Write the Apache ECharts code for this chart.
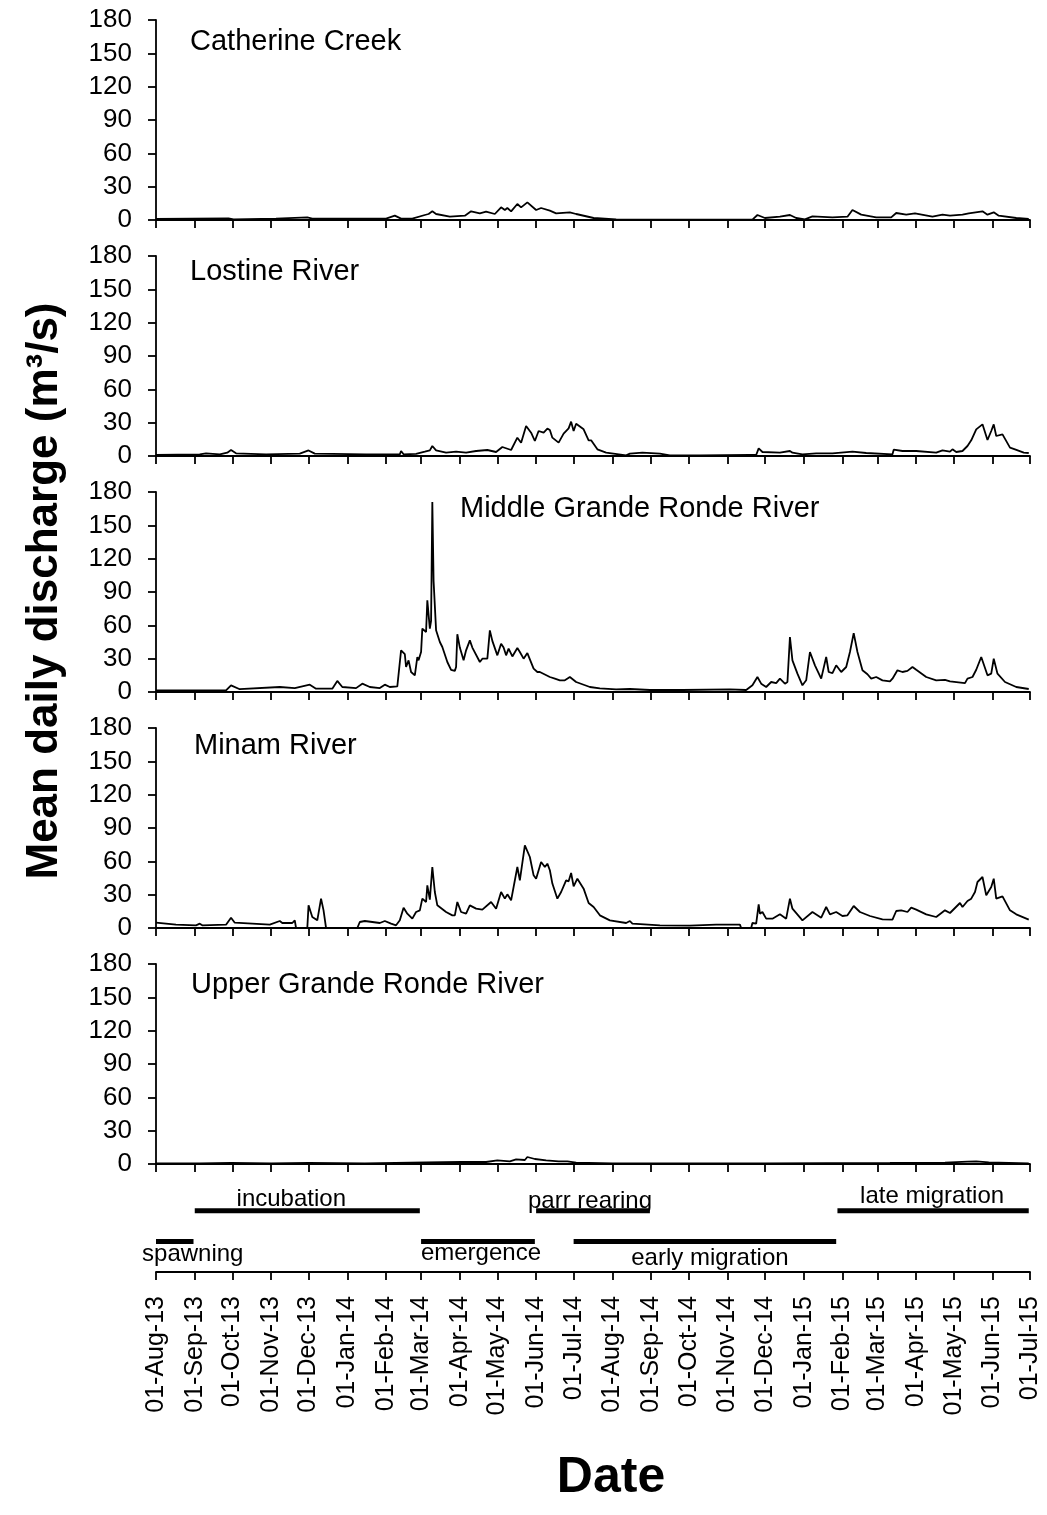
<!DOCTYPE html>
<html>
<head>
<meta charset="utf-8">
<script src="https://cdn.jsdelivr.net/npm/echarts@6/dist/echarts.min.js"></script>
<style>
html,body{margin:0;padding:0;background:#fff;}
#chart{width:1047px;height:1515px;}
</style>
</head>
<body>
<div id="chart"></div>
<script>
// ---------------- DATA ----------------
const panelNames = ['Catherine Creek', 'Lostine River', 'Middle Grande Ronde River', 'Minam River', 'Upper Grande Ronde River'];

const monthTicks = ['2013-08-01','2013-09-01','2013-10-01','2013-11-01','2013-12-01','2014-01-01','2014-02-01','2014-03-01','2014-04-01','2014-05-01','2014-06-01','2014-07-01','2014-08-01','2014-09-01','2014-10-01','2014-11-01','2014-12-01','2015-01-01','2015-02-01','2015-03-01','2015-04-01','2015-05-01','2015-06-01','2015-07-01'];

const yTicks = [0, 30, 60, 90, 120, 150, 180];

const catherineCreek = [['2013-08-01',0.9],['2013-09-28',1.5],['2013-10-02',0.6],['2013-11-05',1.2],['2013-11-30',2.4],['2013-12-04',1.2],['2014-02-01',1.2],['2014-02-08',3.9],['2014-02-13',1.2],['2014-02-22',1.2],['2014-03-04',4.5],['2014-03-07',5.4],['2014-03-10',7.8],['2014-03-13',5.4],['2014-03-24',3.0],['2014-04-05',3.9],['2014-04-10',7.8],['2014-04-17',6.0],['2014-04-22',7.5],['2014-04-29',5.4],['2014-05-04',11.4],['2014-05-07',9.0],['2014-05-09',10.8],['2014-05-12',7.8],['2014-05-17',14.4],['2014-05-20',11.4],['2014-05-25',15.9],['2014-06-01',9.0],['2014-06-05',10.8],['2014-06-12',8.4],['2014-06-17',6.0],['2014-06-28',6.9],['2014-07-03',5.4],['2014-07-17',1.8],['2014-08-04',0.6],['2014-09-26',0.3],['2014-11-21',0.3],['2014-11-25',4.5],['2014-12-01',1.8],['2014-12-13',3.0],['2014-12-21',4.5],['2014-12-26',1.8],['2015-01-02',0.6],['2015-01-08',3.3],['2015-01-24',2.4],['2015-02-05',3.0],['2015-02-09',9.0],['2015-02-16',4.8],['2015-02-28',2.4],['2015-03-12',2.4],['2015-03-16',6.3],['2015-03-24',4.8],['2015-03-31',6.0],['2015-04-14',3.0],['2015-04-22',4.8],['2015-04-28',3.9],['2015-05-08',4.8],['2015-05-13',6.0],['2015-05-24',7.8],['2015-05-28',4.8],['2015-06-02',6.9],['2015-06-06',3.9],['2015-06-20',1.8],['2015-06-30',0.9]];

const lostineRiver = [['2013-08-01',1.0],['2013-09-05',1.5],['2013-09-10',2.4],['2013-09-21',1.5],['2013-09-27',3.0],['2013-09-30',5.4],['2013-10-04',2.4],['2013-10-28',1.5],['2013-11-24',2.1],['2013-12-01',5.0],['2013-12-06',2.1],['2013-12-20',2.0],['2014-01-16',1.5],['2014-02-12',1.5],['2014-02-13',4.5],['2014-02-15',1.5],['2014-02-25',2.0],['2014-03-04',3.9],['2014-03-08',5.1],['2014-03-10',9.0],['2014-03-13',5.1],['2014-03-21',3.0],['2014-03-29',3.9],['2014-04-06',3.0],['2014-04-14',4.5],['2014-04-23',5.4],['2014-04-30',3.6],['2014-05-05',8.1],['2014-05-12',5.4],['2014-05-17',16.5],['2014-05-20',12.0],['2014-05-24',27.0],['2014-05-28',21.0],['2014-05-31',13.5],['2014-06-03',22.5],['2014-06-07',21.0],['2014-06-10',24.6],['2014-06-12',23.4],['2014-06-14',16.5],['2014-06-19',12.0],['2014-06-23',20.1],['2014-06-27',24.9],['2014-06-29',30.9],['2014-07-01',22.5],['2014-07-03',29.1],['2014-07-09',24.0],['2014-07-13',14.1],['2014-07-15',14.1],['2014-07-20',6.0],['2014-07-27',3.0],['2014-08-12',0.6],['2014-08-15',2.1],['2014-08-25',3.0],['2014-09-08',2.1],['2014-09-16',0.6],['2014-10-10',0.6],['2014-11-19',0.9],['2014-11-24',0.9],['2014-11-26',6.9],['2014-11-29',3.6],['2014-12-13',3.0],['2014-12-21',4.5],['2014-12-23',3.0],['2014-12-31',1.5],['2015-01-11',2.4],['2015-01-24',2.4],['2015-02-09',3.9],['2015-02-20',2.7],['2015-03-13',1.5],['2015-03-14',5.7],['2015-03-21',4.5],['2015-04-01',4.5],['2015-04-17',3.0],['2015-04-22',5.1],['2015-04-28',3.9],['2015-04-30',6.0],['2015-05-03',3.6],['2015-05-08',4.5],['2015-05-12',9.0],['2015-05-15',14.1],['2015-05-19',24.0],['2015-05-24',28.5],['2015-05-28',14.4],['2015-05-31',22.5],['2015-06-02',28.5],['2015-06-04',18.0],['2015-06-09',19.5],['2015-06-15',7.5],['2015-06-19',6.0],['2015-06-26',3.0],['2015-06-30',2.7]];

const middleGrandeRonde = [['2013-08-01',1.5],['2013-09-26',1.5],['2013-09-30',6.0],['2013-10-07',2.5],['2013-11-08',4.5],['2013-11-20',3.5],['2013-12-02',6.6],['2013-12-07',3.0],['2013-12-20',3.0],['2013-12-24',10.0],['2013-12-28',4.5],['2014-01-08',3.5],['2014-01-13',7.5],['2014-01-19',4.5],['2014-01-27',3.5],['2014-01-31',6.6],['2014-02-04',4.5],['2014-02-10',5.0],['2014-02-13',37.5],['2014-02-16',34.0],['2014-02-17',22.5],['2014-02-19',28.5],['2014-02-21',18.0],['2014-02-24',15.0],['2014-02-26',31.5],['2014-02-27',28.5],['2014-03-01',36.0],['2014-03-02',57.0],['2014-03-05',54.0],['2014-03-06',82.5],['2014-03-08',57.0],['2014-03-09',64.0],['2014-03-10',171.0],['2014-03-11',100.0],['2014-03-13',55.5],['2014-03-16',45.0],['2014-03-18',40.5],['2014-03-22',27.0],['2014-03-25',20.0],['2014-03-28',19.0],['2014-03-29',22.5],['2014-03-30',52.0],['2014-04-01',40.0],['2014-04-04',28.5],['2014-04-06',37.5],['2014-04-09',46.5],['2014-04-11',40.0],['2014-04-17',27.0],['2014-04-19',30.0],['2014-04-23',30.0],['2014-04-25',55.5],['2014-04-27',46.0],['2014-05-01',33.0],['2014-05-04',43.5],['2014-05-06',40.0],['2014-05-08',33.0],['2014-05-10',39.0],['2014-05-13',32.0],['2014-05-17',39.6],['2014-05-19',36.0],['2014-05-22',30.0],['2014-05-25',35.0],['2014-05-30',21.0],['2014-06-02',18.0],['2014-06-04',18.0],['2014-06-12',13.5],['2014-06-16',12.0],['2014-06-20',10.5],['2014-06-24',10.5],['2014-06-28',13.5],['2014-07-03',9.0],['2014-07-14',4.5],['2014-07-22',3.3],['2014-08-04',2.4],['2014-08-15',2.7],['2014-08-31',1.8],['2014-09-26',1.8],['2014-11-03',2.4],['2014-11-16',1.8],['2014-11-21',6.0],['2014-11-25',13.5],['2014-11-28',7.5],['2014-12-02',4.5],['2014-12-06',9.0],['2014-12-10',8.0],['2014-12-13',12.0],['2014-12-17',7.5],['2014-12-19',9.0],['2014-12-21',49.5],['2014-12-23',28.5],['2014-12-27',16.5],['2014-12-31',6.0],['2015-01-03',10.5],['2015-01-06',36.0],['2015-01-10',24.0],['2015-01-15',12.0],['2015-01-19',31.5],['2015-01-21',18.0],['2015-01-24',17.0],['2015-01-27',24.0],['2015-01-31',18.0],['2015-02-04',22.5],['2015-02-07',36.0],['2015-02-10',53.0],['2015-02-13',36.0],['2015-02-17',19.5],['2015-02-21',16.0],['2015-02-24',12.0],['2015-02-28',13.5],['2015-03-05',10.5],['2015-03-11',9.6],['2015-03-13',12.0],['2015-03-17',19.5],['2015-03-21',18.0],['2015-03-25',19.0],['2015-03-29',22.5],['2015-04-01',20.0],['2015-04-09',13.5],['2015-04-17',10.5],['2015-04-24',11.0],['2015-04-28',9.6],['2015-05-10',8.0],['2015-05-12',12.0],['2015-05-16',13.5],['2015-05-19',20.0],['2015-05-23',31.5],['2015-05-28',15.0],['2015-05-31',16.5],['2015-06-02',30.0],['2015-06-05',16.5],['2015-06-11',9.0],['2015-06-20',4.5],['2015-06-30',2.7]];

const minamRiver = [['2013-08-01',4.8],['2013-08-17',3.0],['2013-09-02',2.4],['2013-09-05',3.9],['2013-09-07',2.4],['2013-09-26',3.0],['2013-09-30',9.3],['2013-10-03',4.8],['2013-10-31',3.0],['2013-11-08',6.3],['2013-11-10',4.5],['2013-11-18',4.5],['2013-11-20',6.9],['2013-11-21',0],['2013-11-30',0],['2013-12-01',20.4],['2013-12-04',9.9],['2013-12-08',6.9],['2013-12-11',26.4],['2013-12-13',15.9],['2013-12-15',0],['2014-01-09',0],['2014-01-11',5.4],['2014-01-15',6.3],['2014-01-27',4.5],['2014-01-31',6.3],['2014-02-05',3.9],['2014-02-09',2.4],['2014-02-12',6.9],['2014-02-15',18.3],['2014-02-18',12.9],['2014-02-22',8.4],['2014-02-25',14.4],['2014-02-28',15.9],['2014-03-02',26.4],['2014-03-05',23.4],['2014-03-06',38.4],['2014-03-08',25.5],['2014-03-10',54.9],['2014-03-12',32.4],['2014-03-14',20.4],['2014-03-21',14.4],['2014-03-26',11.4],['2014-03-28',11.4],['2014-03-30',23.4],['2014-04-02',14.4],['2014-04-06',12.9],['2014-04-09',20.4],['2014-04-14',17.4],['2014-04-19',16.5],['2014-04-26',23.4],['2014-04-30',17.4],['2014-05-04',32.4],['2014-05-07',26.4],['2014-05-09',30.3],['2014-05-12',24.9],['2014-05-17',54.9],['2014-05-19',42.9],['2014-05-23',74.4],['2014-05-27',63.9],['2014-05-30',47.4],['2014-06-01',44.4],['2014-06-05',59.4],['2014-06-08',54.9],['2014-06-10',57.9],['2014-06-12',52.0],['2014-06-14',40.0],['2014-06-18',26.4],['2014-06-21',32.4],['2014-06-25',42.9],['2014-06-27',42.0],['2014-06-29',49.5],['2014-07-01',37.5],['2014-07-04',44.4],['2014-07-09',35.4],['2014-07-13',22.5],['2014-07-17',18.9],['2014-07-22',11.4],['2014-07-30',6.9],['2014-08-12',4.5],['2014-08-15',6.3],['2014-08-17',3.9],['2014-09-08',2.4],['2014-10-02',2.1],['2014-10-23',3.0],['2014-11-11',3.0],['2014-11-12',0],['2014-11-20',0],['2014-11-21',4.5],['2014-11-24',3.9],['2014-11-26',21.3],['2014-11-27',12.9],['2014-11-29',14.4],['2014-12-02',8.4],['2014-12-07',8.4],['2014-12-13',12.3],['2014-12-18',8.4],['2014-12-21',26.4],['2014-12-23',17.4],['2014-12-31',6.9],['2015-01-08',14.4],['2015-01-15',9.3],['2015-01-19',18.9],['2015-01-22',12.3],['2015-01-27',14.4],['2015-02-01',10.8],['2015-02-05',11.4],['2015-02-10',19.8],['2015-02-15',14.4],['2015-02-23',10.8],['2015-03-05',7.8],['2015-03-13',7.5],['2015-03-16',15.3],['2015-03-20',15.9],['2015-03-25',14.4],['2015-03-28',18.3],['2015-04-01',16.5],['2015-04-09',12.3],['2015-04-17',9.9],['2015-04-24',15.9],['2015-04-28',13.5],['2015-05-06',22.5],['2015-05-08',18.9],['2015-05-12',24.3],['2015-05-15',26.4],['2015-05-18',32.4],['2015-05-20',41.4],['2015-05-24',45.9],['2015-05-27',29.4],['2015-05-31',36.9],['2015-06-02',44.4],['2015-06-04',26.4],['2015-06-09',28.5],['2015-06-15',15.9],['2015-06-20',12.3],['2015-06-30',7.5]];

const upperGrandeRonde = [['2013-08-01',0.6],['2013-09-05',0.6],['2013-09-30',0.9],['2013-11-01',0.6],['2013-12-01',0.9],['2014-01-15',0.6],['2014-03-05',1.5],['2014-04-02',1.8],['2014-04-22',1.8],['2014-05-01',3.3],['2014-05-11',2.4],['2014-05-16',4.2],['2014-05-23',3.6],['2014-05-25',6.3],['2014-05-31',4.5],['2014-06-09',3.3],['2014-06-19',2.4],['2014-06-26',2.4],['2014-07-03',1.2],['2014-08-01',0.6],['2014-12-01',0.6],['2015-03-11',0.9],['2015-04-24',1.2],['2015-05-12',2.1],['2015-05-19',2.4],['2015-05-29',1.5],['2015-06-30',0.6]];

const stageNames = ['spawning', 'incubation', 'emergence', 'parr rearing', 'early migration', 'late migration'];
const stageStart = ['2013-08-01', '2013-09-01', '2014-03-01', '2014-06-01', '2014-07-01', '2015-01-28'];
const stageEnd   = ['2013-08-31', '2014-02-28', '2014-05-31', '2014-08-31', '2015-01-27', '2015-06-30'];
const stageRow   = [1, 2, 1, 2, 1, 2]; // 1 = lower row, 2 = upper row

// ---------------- STYLE / LAYOUT ----------------
const FONT = '"Liberation Sans", Arial, Helvetica, sans-serif';
const panelTops = [20, 256, 492, 728, 964];
const panelH = 200;
const gridLeft = 156, gridRight = 17;
const titleLeft = [190, 190, 460, 194, 191];
const titleTopOff = [7, 1, 2, 3, 6];
const stageLabelDx = {'spawning': 18, 'incubation': -16, 'emergence': 3, 'parr rearing': -3, 'early migration': 5, 'late migration': -1};
const stageLabelDy = {'spawning': 2, 'incubation': 0, 'emergence': 1, 'parr rearing': 2, 'early migration': 6, 'late migration': -3};

function toTime(s) {
  const p = s.split('-').map(Number);
  return new Date(p[0], p[1] - 1, p[2]).getTime();
}
const MON = ['Jan','Feb','Mar','Apr','May','Jun','Jul','Aug','Sep','Oct','Nov','Dec'];
function fmtDate(t) {
  const d = new Date(t);
  return String(d.getDate()).padStart(2, '0') + '-' + MON[d.getMonth()] + '-' + String(d.getFullYear()).slice(2);
}

const tickTimes = monthTicks.map(toTime);
const xMin = tickTimes[0], xMax = tickTimes[tickTimes.length - 1];
const seriesData = [catherineCreek, lostineRiver, middleGrandeRonde, minamRiver, upperGrandeRonde];

const grids = [], xAxes = [], yAxes = [], series = [], titles = [];
const axisLineStyle = { color: '#000', width: 1.8 };

for (let i = 0; i < 5; i++) {
  grids.push({ left: gridLeft, right: gridRight, top: panelTops[i], height: panelH, containLabel: false });
  xAxes.push({
    type: 'value', gridIndex: i, min: xMin, max: xMax,
    axisLine: { show: true, onZero: false, lineStyle: axisLineStyle },
    axisTick: { show: true, inside: false, length: 8, lineStyle: axisLineStyle, customValues: tickTimes },
    axisLabel: { show: false },
    splitLine: { show: false }
  });
  yAxes.push({
    type: 'value', gridIndex: i, min: yTicks[0], max: yTicks[yTicks.length - 1], interval: 30,
    axisLine: { show: true, onZero: false, lineStyle: axisLineStyle },
    axisTick: { show: true, inside: false, length: 8, lineStyle: axisLineStyle },
    axisLabel: { show: true, color: '#000', fontSize: 26, fontFamily: FONT, margin: 24 },
    splitLine: { show: false }
  });
  series.push({
    type: 'line', xAxisIndex: i, yAxisIndex: i,
    data: seriesData[i].map(d => [toTime(d[0]), d[1]]),
    showSymbol: false, symbol: 'none',
    lineStyle: { color: '#000', width: 1.8 },
    silent: true, animation: false
  });
  titles.push({
    text: panelNames[i], left: titleLeft[i], top: panelTops[i] + titleTopOff[i], padding: 0,
    textStyle: { fontSize: 29, fontWeight: 'normal', color: '#000', fontFamily: FONT }
  });
}

// life-stage panel
grids.push({ left: gridLeft, right: gridRight, top: 1165, height: 107 });
xAxes.push({
  type: 'value', gridIndex: 5, min: xMin, max: xMax,
  axisLine: { show: true, onZero: false, lineStyle: axisLineStyle },
  axisTick: { show: true, inside: false, length: 8, lineStyle: axisLineStyle, customValues: tickTimes },
  axisLabel: {
    show: true, customValues: tickTimes, rotate: 90, margin: 24, color: '#000',
    fontSize: 25, fontFamily: FONT, hideOverlap: false, formatter: v => fmtDate(v)
  },
  splitLine: { show: false }
});
yAxes.push({ type: 'value', gridIndex: 5, min: 0, max: 3.5, show: false });

series.push({
  type: 'custom', xAxisIndex: 5, yAxisIndex: 5, silent: true, animation: false,
  data: stageNames.map((n, k) => [toTime(stageStart[k]), toTime(stageEnd[k]), stageRow[k]]),
  renderItem: function (params, api) {
    const name = stageNames[params.dataIndex];
    const row = api.value(2);
    const p0 = api.coord([api.value(0), row]);
    const p1 = api.coord([api.value(1), row]);
    const upper = row === 2;
    const cx = (p0[0] + p1[0]) / 2 + stageLabelDx[name];
    const ty = (upper ? p0[1] + 1 : p0[1] - 1) + stageLabelDy[name];
    return {
      type: 'group',
      children: [
        { type: 'rect', shape: { x: p0[0], y: p0[1] - 2.5, width: p1[0] - p0[0], height: 5 }, style: { fill: '#000' } },
        { type: 'text', x: cx, y: ty,
          style: { text: name, fill: '#000', fontSize: 24, fontFamily: FONT, align: 'center', verticalAlign: upper ? 'bottom' : 'top' } }
      ]
    };
  }
});

const chart = echarts.init(document.getElementById('chart'), null, { renderer: 'canvas' });
chart.setOption({
  backgroundColor: '#fff',
  animation: false,
  textStyle: { fontFamily: FONT, color: '#000' },
  title: titles,
  grid: grids,
  xAxis: xAxes,
  yAxis: yAxes,
  series: series,
  graphic: [
    { type: 'text', x: 45, y: 591, rotation: Math.PI / 2,
      style: { text: 'Mean daily discharge (m³/s)', fill: '#000', fontSize: 44, fontWeight: 'bold', fontFamily: FONT, align: 'center', verticalAlign: 'middle' } },
    { type: 'text', x: 611, y: 1478,
      style: { text: 'Date', fill: '#000', fontSize: 50, fontWeight: 'bold', fontFamily: FONT, align: 'center', verticalAlign: 'middle' } }
  ]
});
</script>
</body>
</html>
